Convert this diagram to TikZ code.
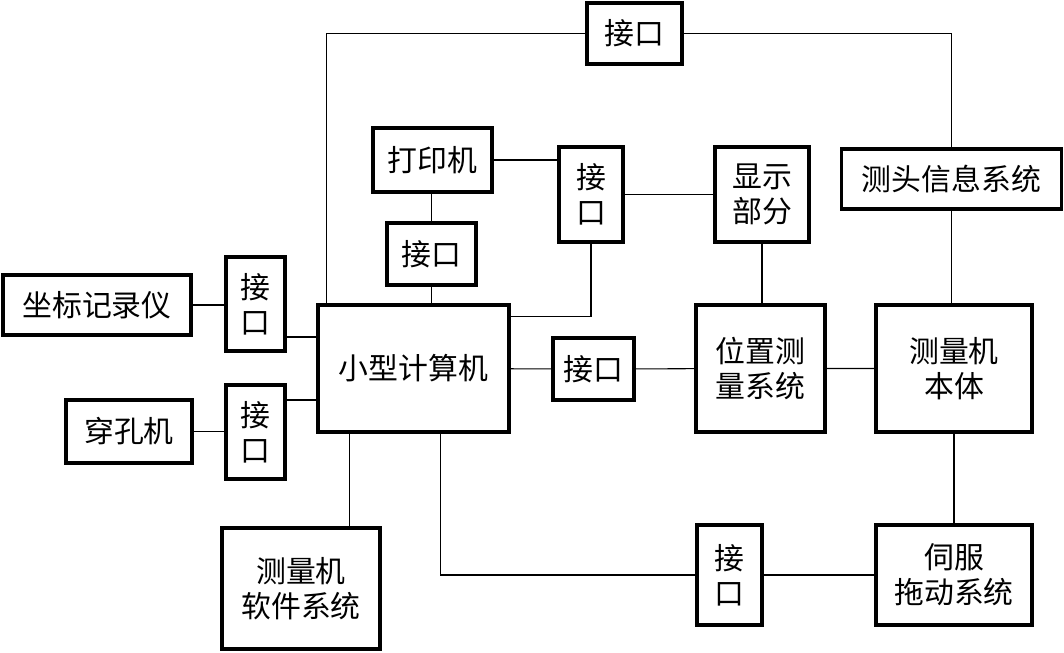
\documentclass[tikz,border=0pt]{standalone}
\usepackage{fontspec}
\newfontfamily\cjk{Noto Sans CJK SC}
\begin{document}
\begin{tikzpicture}[line width=.6pt,
  box/.style={draw, line width=1.8pt, inner sep=0pt, align=center, font=\cjk\fontsize{17}{20}\selectfont},
  wh/.style 2 args={minimum width=#1cm, minimum height=#2cm}]
\useasboundingbox (0,0) rectangle (21.28,-13.06);
\node[box, wh={1.90}{1.22}] (jk1) at (12.69,-.67) {接口};
\node[box, wh={2.38}{1.28}] (dyj) at (8.65,-3.2) {打印机};
\node[box, wh={1.78}{1.24}] (jk2) at (8.63,-5.08) {接口};
\node[box, wh={1.28}{1.90}] (jk3) at (11.82,-3.89) {接\\口};
\node[box, wh={1.88}{1.90}] (xs) at (15.24,-3.89) {显示\\部分};
\node[box, wh={4.40}{1.20}] (ct) at (19.03,-3.58) {测头信息系统};
\node[box, wh={3.76}{1.20}] (zb) at (1.94,-6.10) {坐标记录仪};
\node[box, wh={1.18}{1.88}] (jk4) at (5.11,-6.08) {接\\口};
\node[box, wh={3.82}{2.54}] (pc) at (8.27,-7.37) {小型计算机};
\node[box, wh={1.62}{1.24}] (jk5) at (11.87,-7.38) {接口};
\node[box, wh={2.58}{2.54}] (wz) at (15.21,-7.37) {位置测\\量系统};
\node[box, wh={3.12}{2.54}] (bt) at (19.08,-7.37) {测量机\\本体};
\node[box, wh={2.52}{1.26}] (ck) at (2.58,-8.63) {穿孔机};
\node[box, wh={1.18}{1.88}] (jk6) at (5.11,-8.64) {接\\口};
\node[box, wh={3.16}{2.42}] (rj) at (6.02,-11.77) {测量机\\软件系统};
\node[box, wh={1.30}{2.00}] (jk7) at (14.59,-11.50) {接\\口};
\node[box, wh={3.12}{2.00}] (sf) at (19.08,-11.50) {伺服\\拖动系统};
\coordinate (pctop) at ([xshift=2mm]pc.north west);
\coordinate (pcr) at ([yshift=-2.6mm]pc.north east);
\coordinate (j4r) at ([yshift=-6.6mm]jk4.east);
\coordinate (j6r) at ([yshift=6.4mm]jk6.east);
\coordinate (pcb1) at ([xshift=6.6mm]pc.south west);
\coordinate (pcb2) at ([xshift=24.8mm]pc.south west);
\draw (pctop) |- (jk1);
\draw (jk1) -| (ct.north);
\draw (jk2.north) -- (jk2.north |- dyj.south);
\draw (jk2) -- (jk2 |- pc.north);
\draw (dyj.east) -- (dyj.east -| jk3.west);
\draw (jk3) -- (xs);
\draw (jk3.south) |- (pcr);
\draw (xs.south) -- (xs.south |- wz.north);
\draw (ct.south) -- (ct.south |- bt.north);
\draw (bt) -- (sf);
\draw (zb.east) -- (zb.east -| jk4.west);
\draw (j4r) -- (j4r -| pc.west);
\draw (ck.east) -- (ck.east -| jk6.west);
\draw (j6r) -- (j6r -| pc.west);
\draw (pc) -- (jk5) -- (wz) -- (bt);
\draw (pcb1) -- (pcb1 |- rj.north);
\draw (pcb2) |- (jk7);
\draw (jk7) -- (sf);
\end{tikzpicture}
\end{document}
